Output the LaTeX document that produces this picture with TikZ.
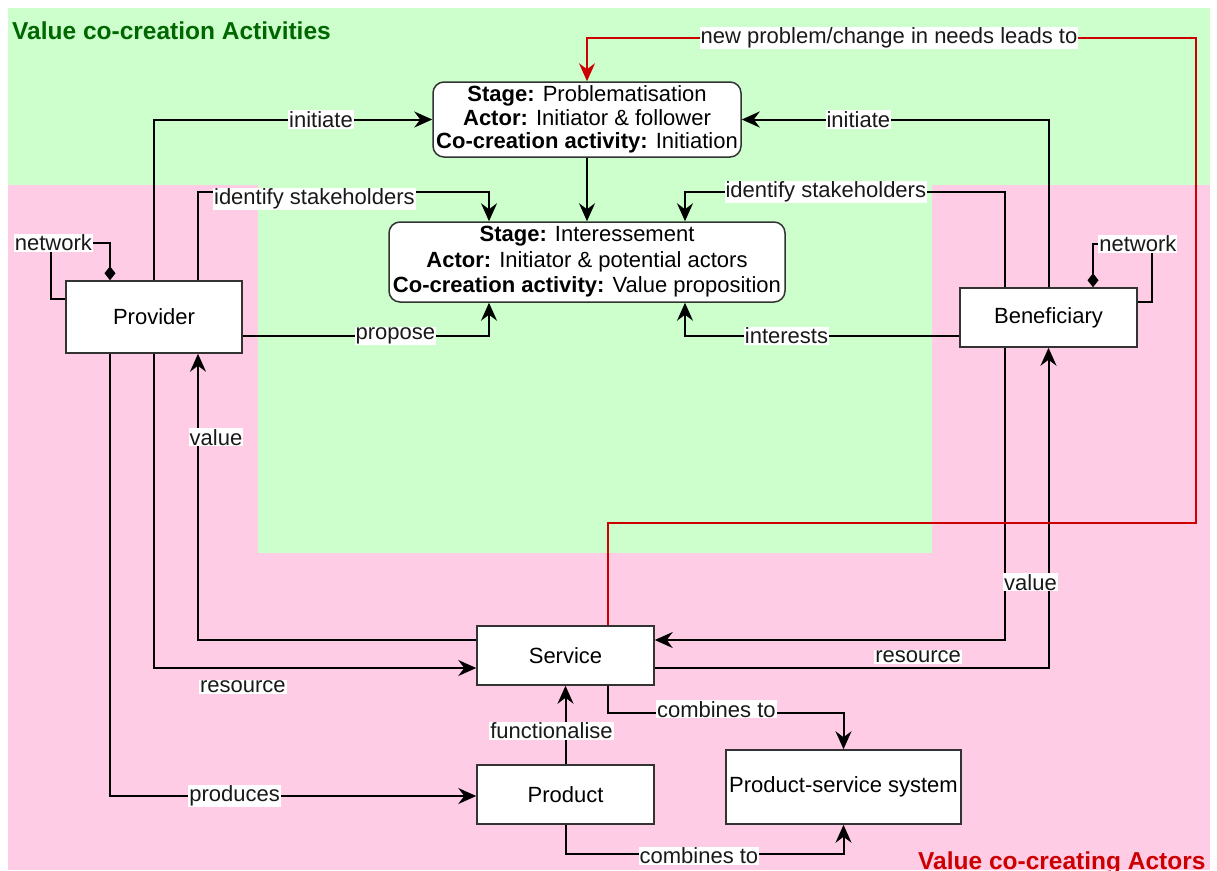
\documentclass[tikz,border=0pt]{standalone}
\usepackage{fontspec}
\setmainfont{Liberation Sans}
\usetikzlibrary{arrows.meta}
\definecolor{actgreen}{HTML}{CCFFCC}
\definecolor{actpink}{HTML}{FFCCE6}
\definecolor{titlegreen}{HTML}{006600}
\definecolor{titlered}{HTML}{CC0000}
\definecolor{loopred}{HTML}{CC0000}
\tikzset{
  txt/.style={font=\fontsize{22}{23}\selectfont},
  box/.style={txt, draw=black!80, line width=1.5pt, fill=white, inner sep=0pt},
  stagebox/.style={box, rounded corners=11pt, align=center},
  conn/.style={line width=2pt, -{Stealth[length=18pt,width=16pt,inset=6pt]}},
  netw/.style={line width=2pt, -{Diamond[length=14pt,width=11pt]}},
  lbl/.style={txt, fill=white, inner sep=1pt, text=black!90},
  redconn/.style={conn, draw=loopred},
  heading/.style={font=\fontsize{24.5}{26}\selectfont\bfseries, anchor=base west, inner sep=0pt},
}
\begin{document}
\begin{tikzpicture}[x=1pt, y=-1pt]
\useasboundingbox (0,0) rectangle (1217,870);
% background areas
\fill[white] (0,0) rectangle (1217,870);
\fill[actgreen] (8,8) rectangle (1210,185);
\fill[actpink] (8,185) rectangle (1210,870);
\fill[actgreen] (258,185) rectangle (932,553);

\node[heading, text=titlegreen] (acttitle) at (12,39) {Value co-creation Activities};
\node[heading, text=titlered] (actortitle) at (918,869) {Value co-creating Actors};

% stages
\node[stagebox, minimum width=308pt, minimum height=75pt,
      font=\fontsize{22}{23.5}\selectfont] (prob) at (587,119.5)
  {\textbf{Stage:} Problematisation\\\textbf{Actor:} Initiator \& follower\\\textbf{Co-creation activity:} Initiation};
\node[stagebox, minimum width=396pt, minimum height=80pt,
      font=\fontsize{22}{25.5}\selectfont] (inter) at (587,262)
  {\textbf{Stage:} Interessement\\\textbf{Actor:} Initiator \& potential actors\\\textbf{Co-creation activity:} Value proposition};

% actors
\node[box, minimum width=176pt, minimum height=72pt] (prov) at (154,317) {Provider};
\node[box, minimum width=177pt, minimum height=59pt] (bene) at (1048.5,317.5) {Beneficiary};
\node[box, minimum width=177pt, minimum height=59pt] (serv) at (565.5,655.5) {Service};
\node[box, minimum width=177pt, minimum height=59pt] (prod) at (565.5,794.5) {Product};
\node[box, minimum width=235pt, minimum height=74pt] (pss) at (843.5,787) {Product-service system};

% initiation
\draw[conn] (prov.north) |- node[lbl, pos=0.80] {initiate} (prob.west);
\draw[conn] (bene.north) |- node[lbl, pos=0.81] {initiate} (prob.east);
\draw[conn] (prob.south) -- (inter.north);

% interessement
\draw[conn] ([xshift=44pt]prov.north) |- node[lbl, pos=0.70, yshift=-7pt] {identify stakeholders} (489,192)
  -- ([xshift=-98pt]inter.north);
\draw[conn] ([xshift=-43.5pt]bene.north) |- node[lbl, pos=0.78] {identify stakeholders} (685,192)
  -- ([xshift=98pt]inter.north);
\draw[conn] ([yshift=-19pt]prov.east) -| node[lbl, pos=0.31] {propose} ([xshift=-98pt]inter.south);
\draw[conn] ([yshift=-18.5pt]bene.west) -| node[lbl, pos=0.315] {interests} ([xshift=98pt]inter.south);

% networks
\draw[netw] ([yshift=18pt]prov.west) -| (51,243) -| node[lbl, pos=0.02] {network} ([xshift=-44pt]prov.north);
\draw[netw] ([yshift=15.5pt]bene.east) -| (1152,244) -| node[lbl, pos=0.12] {network} ([xshift=44.5pt]bene.north);

% exchanges with the service
\draw[conn] ([yshift=15.5pt]serv.west) -| node[lbl, pos=0.854, xshift=18pt] {value} ([xshift=44pt]prov.south);
\draw[conn] (prov.south) |- node[lbl, pos=0.638, yshift=-19pt] {resource} ([yshift=-12.5pt]serv.west);
\draw[conn] ([xshift=-44pt]prov.south) |- node[lbl, pos=0.67] {produces} ([yshift=-1.5pt]prod.west);
\draw[conn] ([xshift=-43.5pt]bene.south) |- node[lbl, pos=0.624, yshift=-17pt] {resource} ([yshift=15.5pt]serv.east);
\draw[conn] ([yshift=-12.5pt]serv.east) -| node[lbl, pos=0.634, xshift=-18pt] {value} (bene.south);
\draw[conn] (prod.north) -- node[lbl, pos=0.425, xshift=-14pt] {functionalise} (serv.south);

% product-service system
\draw[conn] ([xshift=42.5pt]serv.south) |- node[lbl, pos=0.73, yshift=4pt] {combines to} ([yshift=36pt]pss.north) -- (pss.north);
\draw[conn] (prod.south) |- node[lbl, pos=0.74, yshift=-2pt] {combines to} ([yshift=-29pt]pss.south) -- (pss.south);

% feedback loop
\draw[redconn] ([xshift=42.5pt]serv.north) |- (1196,523) -- (1196,38)
  -| node[lbl, pos=0.252] {new problem/change in needs leads to} (prob.north);
\end{tikzpicture}
\end{document}
